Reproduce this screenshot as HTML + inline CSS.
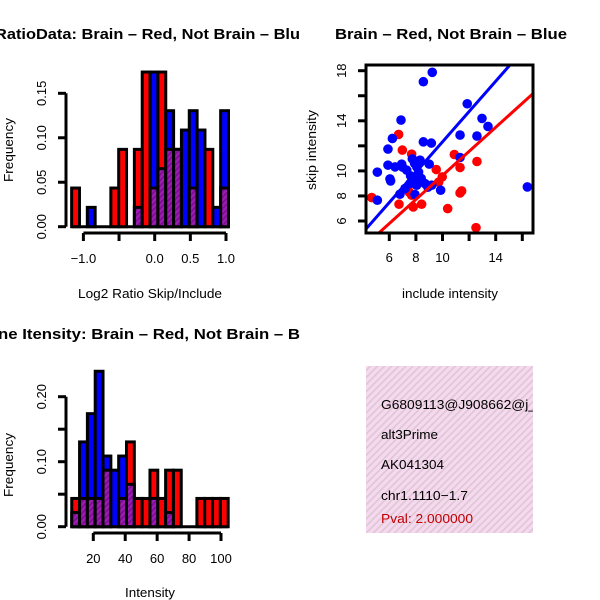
<!DOCTYPE html>
<html><head><meta charset="utf-8"><style>
body{margin:0;background:#fff}
svg{display:block;font-family:"Liberation Sans",sans-serif}
</style></head><body>
<svg id="c" width="600" height="600" viewBox="0 0 600 600">
<defs>
<pattern id="hatch" width="4" height="4" patternUnits="userSpaceOnUse" patternTransform="rotate(45)">
<rect width="4" height="4" fill="#9a1cb0"/><rect width="1.5" height="4" fill="#7a0c90"/></pattern>
<clipPath id="scClip"><rect x="366" y="65" width="167" height="168"/></clipPath>
</defs>
<g id="root"></g>
</svg>
<script>
// ---- Ratio histogram data (counts out of total) ----
const ratioBinStart = -1.165;
const ratioBinWidth = 0.11;
const ratioRedCounts  = [2,0,0,0,0,2,4,0,4,8,2,8,4,4,0,2,0,4,0,2];
const ratioBlueCounts = [0,0,1,0,0,0,0,0,1,0,8,3,6,4,5,6,5,0,1,6];
const ratioTotal = 46;
const ratioXTicks = [-1.0,-0.5,0.0,0.5,1.0];
const ratioXLabels = ["\u22121.0","","0.0","0.5","1.0"];
const ratioYTicks = [0,0.05,0.10,0.15];
const ratioYLabels = ["0.00","0.05","0.10","0.15"];

// ---- Intensity histogram data ----
const intBinStart = 6.5;
const intBinWidth = 4.9;
const intRedCounts  = [2,2,2,2,4,0,2,6,2,2,4,2,4,4,0,0,2,2,2,2];
const intBlueCounts = [1,6,8,11,5,4,5,3,0,0,2,0,1,0,0,0,0,0,0,0];
const intTotal = 46;
const intXTicks = [20,40,60,80,100];
const intXLabels = ["20","40","60","80","100"];
const intYTicks = [0,0.05,0.10,0.15,0.20];
const intYLabels = ["0.00","","0.10","","0.20"];

// ---- Scatter data ----
const blueX = [9.23,8.56,11.86,6.88,12.97,13.42,6.23,11.32,12.59,8.56,9.16,5.9,11.32,5.1,6.05,5.9,6.43,6.93,7.31,7.73,8.31,8.06,9.0,7.56,7.18,6.8,8.06,8.68,9.19,9.86,7.93,5.1,16.38,7.6,8.2,7.9,8.9,6.1,7.0,7.8,8.4];
const blueY = [17.87,17.12,15.36,14.06,14.19,13.55,12.59,12.86,12.78,12.32,12.22,11.74,11.07,9.9,9.36,10.46,10.32,10.54,10.06,10.96,10.86,10.32,10.54,8.99,8.59,8.14,8.86,8.99,8.86,8.46,8.11,7.66,8.72,9.6,9.9,10.6,8.7,9.2,10.3,9.3,9.4];
const redX = [6.7,6.98,7.68,10.89,11.32,12.59,9.53,9.98,9.71,8.26,11.44,11.32,7.68,4.68,6.73,7.8,8.43,10.39,12.52,8.0,7.5];
const redY = [12.91,11.66,11.34,11.31,10.27,10.75,10.11,9.52,9.10,9.39,8.4,8.24,8.06,7.87,7.34,7.12,7.34,6.99,5.47,8.9,8.3];
const blueFit = [0.22,1.21]; // intercept, slope
const redFit = [0.04,0.96];
const scXTicks = [6,8,10,12,14,16];
const scXLabels = ["6","8","10","","14",""];
const scYTicks = [6,8,10,12,14,16,18];
const scYLabels = ["6","8","10","","14","","18"];

const NS="http://www.w3.org/2000/svg";
const root=document.getElementById('root');
function mk(tag,attrs,parent,txt){const e=document.createElementNS(NS,tag);for(const k in attrs)e.setAttribute(k,attrs[k]);if(txt!==undefined)e.textContent=txt;(parent||root).appendChild(e);return e;}
function lin(d0,d1,p0,p1){return v=>p0+(v-d0)*(p1-p0)/(d1-d0);}

function hist(cfg){
  const g=mk('g',{});
  
  
  const xs=cfg.xs, ys=cfg.ys, n=cfg.red.length;
  const bl=mk('line',{x1:xs(cfg.start),x2:xs(cfg.start+n*cfg.width),y1:ys(0),y2:ys(0),stroke:'#000','stroke-width':3},g);
  
  
  for(let i=0;i<n;i++){
    const r=cfg.red[i]/cfg.total, b=cfg.blue[i]/cfg.total;
    const hi=Math.max(r,b), lo=Math.min(r,b);
    if(hi<=0) continue;
    const x0=xs(cfg.start+i*cfg.width), x1=xs(cfg.start+(i+1)*cfg.width);
    const fill = r>b ? '#ff0000' : (b>r ? '#0000ff' : 'url(#hatch)');
    const bar=mk('rect',{x:x0,y:ys(hi),width:x1-x0,height:ys(0)-ys(hi),fill:fill,stroke:'#000','stroke-width':3},g);
    
    
    if(lo>0){
      const ov=mk('rect',{x:x0,y:ys(lo),width:x1-x0,height:ys(0)-ys(lo),fill:'url(#hatch)',stroke:'#000','stroke-width':3},g);
      
      
    }
  }
  const ya=mk('g',{},g);
  
  
  const yt=cfg.yTicks;
  mk('line',{x1:66,x2:66,y1:ys(yt[0]),y2:ys(yt[yt.length-1]),stroke:'#000','stroke-width':3},ya);
  yt.forEach((t,i)=>{
    mk('line',{x1:58,x2:66,y1:ys(t),y2:ys(t),stroke:'#000','stroke-width':3},ya);
    if(cfg.yLabels[i]){const tx=mk('text',{x:0,y:0,transform:`translate(46,${ys(t)}) rotate(-90)`,'text-anchor':'middle','font-size':13},ya,cfg.yLabels[i]);
      
      }
  });
  const xa=mk('g',{},g);
  
  
  const xt=cfg.xTicks, ay=cfg.axisY;
  mk('line',{x1:xs(xt[0]),x2:xs(xt[xt.length-1]),y1:ay,y2:ay,stroke:'#000','stroke-width':3},xa);
  xt.forEach((t,i)=>{
    mk('line',{x1:xs(t),x2:xs(t),y1:ay,y2:ay+8,stroke:'#000','stroke-width':3},xa);
    if(cfg.xLabels[i]){const tx=mk('text',{x:xs(t),y:ay+30,'text-anchor':'middle','font-size':13},xa,cfg.xLabels[i]);
      
      }
  });
}

hist({name:'ratio-histogram',xs:lin(0,1,154.7,226),ys:lin(0,0.15,226.7,93.3),start:ratioBinStart,width:ratioBinWidth,
  red:ratioRedCounts,blue:ratioBlueCounts,total:ratioTotal,xTicks:ratioXTicks,xLabels:ratioXLabels,yTicks:ratioYTicks,yLabels:ratioYLabels,axisY:233});
hist({name:'intensity-histogram',xs:lin(20,100,93.3,221),ys:lin(0,0.2,526.7,396.7),start:intBinStart,width:intBinWidth,
  red:intRedCounts,blue:intBlueCounts,total:intTotal,xTicks:intXTicks,xLabels:intXLabels,yTicks:intYTicks,yLabels:intYLabels,axisY:533});

(function(){
  const xs=lin(6,14,389.3,495.7), ys=lin(6,18,221,70.7);
  const g=mk('g',{});
  
  
  const pts=mk('g',{'clip-path':'url(#scClip)'},g);
  redX.forEach((x,i)=>{const c=mk('circle',{cx:xs(x),cy:ys(redY[i]),r:4.8,fill:'#ff0000'},pts);
    
    });
  blueX.forEach((x,i)=>{const c=mk('circle',{cx:xs(x),cy:ys(blueY[i]),r:4.8,fill:'#0000ff'},pts);
    
    });
  [[blueFit,'#0000ff','blue-fit-line'],[redFit,'#ff0000','red-fit-line']].forEach(([f,col,nm])=>{
    const l=mk('line',{x1:xs(3),y1:ys(f[0]+f[1]*3),x2:xs(18),y2:ys(f[0]+f[1]*18),stroke:col,'stroke-width':3},pts);
    
    
  });
  mk('rect',{x:366,y:65,width:167,height:168,fill:'none',stroke:'#000','stroke-width':3},g);
  scXTicks.forEach((t,i)=>{mk('line',{x1:xs(t),x2:xs(t),y1:233,y2:241,stroke:'#000','stroke-width':3},g);
    if(scXLabels[i]){const tx=mk('text',{x:xs(t),y:262,'text-anchor':'middle','font-size':13},g,scXLabels[i]);
      
      }});
  scYTicks.forEach((t,i)=>{mk('line',{x1:358,x2:366,y1:ys(t),y2:ys(t),stroke:'#000','stroke-width':3},g);
    if(scYLabels[i]){const tx=mk('text',{x:0,y:0,transform:`translate(346,${ys(t)}) rotate(-90)`,'text-anchor':'middle','font-size':13},g,scYLabels[i]);
      
      }});
})();
</script>
<svg width="600" height="600" style="position:absolute;left:0;top:0">
<defs><clipPath id="boxClip2"><rect x="366" y="366" width="167" height="167"/></clipPath>
<pattern id="pink2" width="5" height="5" patternUnits="userSpaceOnUse" patternTransform="rotate(45)">
<rect width="5" height="5" fill="#f6d8f0"/><rect width="1.6" height="5" fill="#dcc8d0"/></pattern></defs>
<g font-family="Liberation Sans, sans-serif">
<text x="-5" y="39" font-size="14.5" font-weight="bold" textLength="305" lengthAdjust="spacingAndGlyphs">RatioData: Brain – Red, Not Brain – Blu</text>
<text x="0" y="0" transform="translate(13,150) rotate(-90)" text-anchor="middle" font-size="13" textLength="64" lengthAdjust="spacingAndGlyphs">Frequency</text>
<text x="78" y="298" font-size="13" textLength="144" lengthAdjust="spacingAndGlyphs">Log2 Ratio Skip/Include</text>
<text x="335" y="39" font-size="14.5" font-weight="bold" textLength="232" lengthAdjust="spacingAndGlyphs">Brain – Red, Not Brain – Blue</text>
<text x="0" y="0" transform="translate(316,150) rotate(-90)" text-anchor="middle" font-size="13" textLength="80" lengthAdjust="spacingAndGlyphs">skip intensity</text>
<text x="402" y="298" font-size="13" textLength="96" lengthAdjust="spacingAndGlyphs">include intensity</text>
<text x="-2" y="339" font-size="14.5" font-weight="bold" textLength="302" lengthAdjust="spacingAndGlyphs">ne Itensity: Brain – Red, Not Brain – B</text>
<text x="0" y="0" transform="translate(13,465) rotate(-90)" text-anchor="middle" font-size="13" textLength="64" lengthAdjust="spacingAndGlyphs">Frequency</text>
<text x="125" y="597" font-size="13" textLength="50" lengthAdjust="spacingAndGlyphs">Intensity</text>
<g clip-path="url(#boxClip2)">
<rect x="366" y="366" width="167" height="167" fill="url(#pink2)"/>
<text x="381" y="409" font-size="13" textLength="155" lengthAdjust="spacingAndGlyphs">G6809113@J908662@j_</text>
<text x="381" y="439" font-size="13" textLength="57" lengthAdjust="spacingAndGlyphs">alt3Prime</text>
<text x="381" y="469" font-size="13" textLength="63" lengthAdjust="spacingAndGlyphs">AK041304</text>
<text x="381" y="500" font-size="13" textLength="87" lengthAdjust="spacingAndGlyphs">chr1.1110−1.7</text>
<text x="381" y="523" font-size="13" fill="#c00000" textLength="92" lengthAdjust="spacingAndGlyphs">Pval: 2.000000</text>
</g>
</g>
</svg>
</body></html>
